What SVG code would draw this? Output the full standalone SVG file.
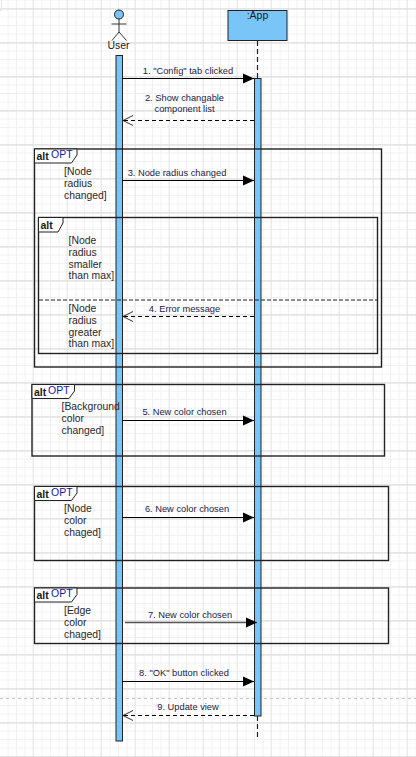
<svg xmlns="http://www.w3.org/2000/svg" width="416" height="757" viewBox="0 0 416 757">
<style>
text{font-family:"Liberation Sans",Arial,sans-serif;fill:#1a1a1a}
.msg{font-size:9.3px;text-anchor:middle;fill:#221c44}
.guard{font-size:10.4px;fill:#2a2a2a}
.alt{font-size:10.5px;font-weight:bold;fill:#1a1a1a}
.opt{font-size:10.5px;fill:#1616a8}
.frame{fill:none;stroke:#222;stroke-width:1.4}
.tab{fill:#fff;stroke:#222;stroke-width:1}
.bar{fill:#7ac5f8;stroke:#222;stroke-width:1}
.line{fill:none;stroke:#000;stroke-width:1}
.dash{fill:none;stroke:#000;stroke-width:1;stroke-dasharray:4 3}
.life{fill:none;stroke:#222;stroke-width:1.2;stroke-dasharray:5 3}
</style>
<defs>
<pattern id="minor" width="8.5" height="8.5" patternUnits="userSpaceOnUse" x="0" y="0.5">
<path d="M8 0V8.5M0 8H8.5" fill="none" stroke="#f1f1f1" stroke-width="1"/>
</pattern>
<pattern id="major" width="34" height="34" patternUnits="userSpaceOnUse" x="-0.5" y="9.5">
<path d="M34 0V34M0 33.5H34" fill="none" stroke="#d9d9d9" stroke-width="1"/>
</pattern>
<marker id="solid" markerUnits="userSpaceOnUse" markerWidth="12" markerHeight="12" refX="11" refY="6" orient="auto">
<path d="M0 1L11 6L0 11Z" fill="#000"/>
</marker>
<marker id="open" markerUnits="userSpaceOnUse" markerWidth="12" markerHeight="12" refX="11" refY="6" orient="auto">
<path d="M1 1L11 6L1 11" fill="none" stroke="#000" stroke-width="0.8"/>
</marker>
</defs>
<rect width="416" height="757" fill="#fff"/>
<rect width="416" height="757" fill="url(#minor)"/>
<rect width="416" height="757" fill="url(#major)"/>
<path d="M1.5 0V10.5H0" fill="none" stroke="#e6e6e6"/>
<path d="M0 698.5H416" fill="none" stroke="#c4c4c4" stroke-dasharray="3 3"/>

<g id="lifelines">
<path class="life" d="M257.5 41V78M257.5 716V739"/>
</g>
<g id="user-bar"><rect class="bar" x="116" y="55.5" width="6.5" height="685.5"/></g>
<g id="app-bar"><rect class="bar" x="254.5" y="78.5" width="6.5" height="637.5"/></g>

<g id="user">
<circle cx="119" cy="14.5" r="4.5" fill="#7ac5f8" stroke="#222"/>
<path d="M119 19V32M111.5 24H126.5M119 32L112 40.5M119 32L126.5 40.5" fill="none" stroke="#222" stroke-width="0.9"/>
<text x="118.500" y="49" font-size="10.500" text-anchor="middle">User</text>
</g>
<g id="app">
<rect x="228" y="10.5" width="59" height="30" fill="#7ac5f8" stroke="#222"/>
<text x="257.5" y="19" font-size="10.500" text-anchor="middle">:App</text>
</g>

<g id="frame-opt-radius">
<rect class="frame" x="34.5" y="149" width="347" height="218"/>
<path class="tab" d="M34.5 149H77V155L71.5 163H34.5Z"/>
<text class="alt" x="36.5" y="160">alt</text>
<text class="opt" x="51" y="158">OPT</text>
<text class="guard" x="64" y="175">[Node</text>
<text class="guard" x="64" y="187">radius</text>
<text class="guard" x="64" y="199">changed]</text>
</g>
<g id="frame-alt-max">
<rect class="frame" x="38.5" y="217.5" width="339" height="136"/>
<path class="tab" d="M38.5 217.5H63V223L58 232H38.5Z"/>
<text class="alt" x="40.5" y="228.5">alt</text>
<path d="M39 300H377" fill="none" stroke="#222" stroke-dasharray="4 2"/>
<text class="guard" x="68.5" y="244">[Node</text>
<text class="guard" x="68.5" y="256">radius</text>
<text class="guard" x="68.5" y="267.500">smaller</text>
<text class="guard" x="68.5" y="279">than max]</text>
<text class="guard" x="68.5" y="312">[Node</text>
<text class="guard" x="68.5" y="324">radius</text>
<text class="guard" x="68.5" y="335.500">greater</text>
<text class="guard" x="68.5" y="347">than max]</text>
</g>
<g id="frame-opt-background">
<rect class="frame" x="32" y="384.500" width="352.500" height="71.500"/>
<path class="tab" d="M32 384.500H74.500V391L69 398.500H32Z"/>
<text class="alt" x="34" y="395.500">alt</text>
<text class="opt" x="48" y="393.500">OPT</text>
<text class="guard" x="61.500" y="410">[Background</text>
<text class="guard" x="61.500" y="422">color</text>
<text class="guard" x="61.500" y="434">changed]</text>
</g>
<g id="frame-opt-node">
<rect class="frame" x="34.500" y="486.500" width="354" height="74"/>
<path class="tab" d="M34.500 486.500H77V493L71.500 500.500H34.500Z"/>
<text class="alt" x="36.500" y="497.500">alt</text>
<text class="opt" x="51" y="495.500">OPT</text>
<text class="guard" x="64" y="512">[Node</text>
<text class="guard" x="64" y="524">color</text>
<text class="guard" x="64" y="536">chaged]</text>
</g>
<g id="frame-opt-edge">
<rect class="frame" x="34.500" y="588" width="354" height="55.500"/>
<path class="tab" d="M34.500 588H77V594.500L71.500 602H34.500Z"/>
<text class="alt" x="36.500" y="599">alt</text>
<text class="opt" x="51" y="597">OPT</text>
<text class="guard" x="64" y="614">[Edge</text>
<text class="guard" x="64" y="626">color</text>
<text class="guard" x="64" y="638">chaged]</text>
</g>

<g id="connectors">
<path class="line" d="M122 78.500H254" marker-end="url(#solid)"/>
<path class="dash" d="M254 120.500H123" marker-end="url(#open)"/>
<path class="line" d="M122 180.500H254" marker-end="url(#solid)"/>
<path class="dash" d="M254 316.500H123" marker-end="url(#open)"/>
<path class="line" d="M122 420.500H254" marker-end="url(#solid)"/>
<path class="line" d="M122 517.500H254" marker-end="url(#solid)"/>
<path d="M125 622.500H257" fill="none" stroke="#555" stroke-width="1.300" marker-end="url(#solid)"/>
<path class="line" d="M122 681.500H254" marker-end="url(#solid)"/>
<path class="dash" d="M254 715.500H123" marker-end="url(#open)"/>
</g>

<g id="labels">
<text class="msg" x="188" y="74">1. "Config" tab clicked</text>
<text class="msg" x="184.500" y="101">2. Show changable</text>
<text class="msg" x="184.500" y="112">component list</text>
<text class="msg" x="177" y="176">3. Node radius changed</text>
<text class="msg" x="184.500" y="312">4. Error message</text>
<text class="msg" x="184.500" y="415">5. New color chosen</text>
<text class="msg" x="187" y="512">6. New color chosen</text>
<text class="msg" x="190" y="618">7. New color chosen</text>
<text class="msg" x="184" y="676">8. "OK" button clicked</text>
<text class="msg" x="188" y="710">9. Update view</text>
</g>
</svg>
